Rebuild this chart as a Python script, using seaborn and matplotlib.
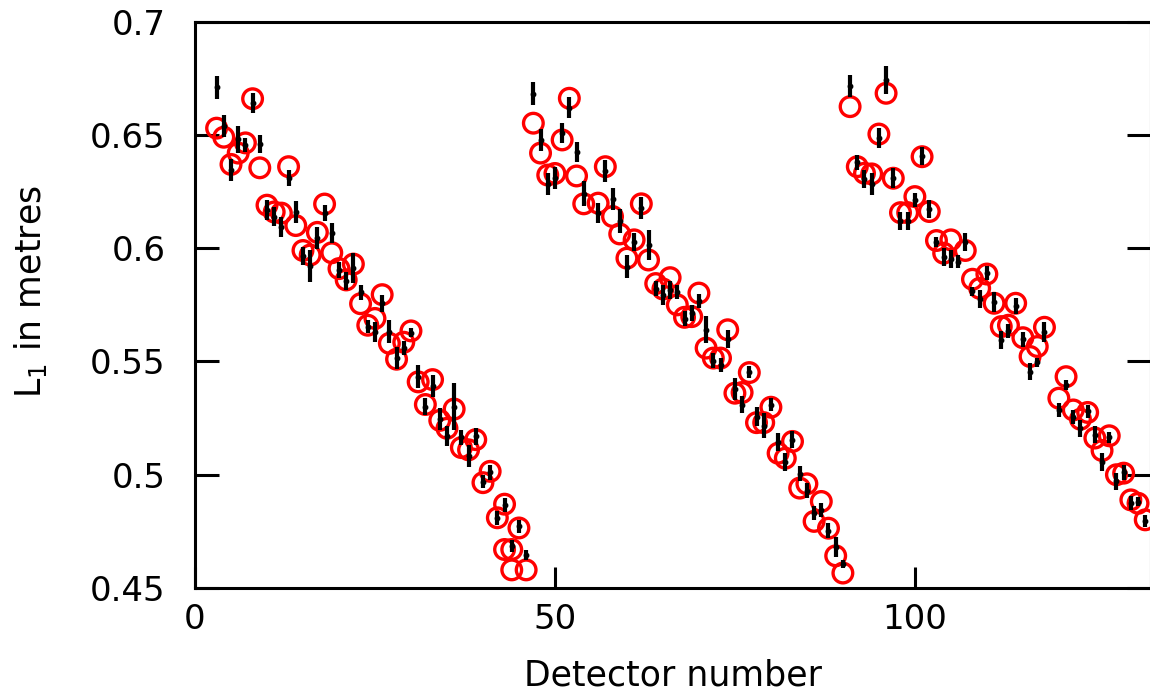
import numpy as np
import pandas as pd
import matplotlib
matplotlib.use("Agg")
import matplotlib.pyplot as plt
import seaborn as sns

# ---- data: calculated L1 (red circles) ----
circle_det = [3, 4, 5, 6, 7, 8, 9, 10, 11, 12, 13, 14, 15, 16, 17, 18, 19, 20, 21, 22,
              23, 24, 25, 26, 27, 28, 29, 30, 31, 32, 33, 34, 35, 36, 37, 38, 39, 40, 41, 42,
              43, 43, 44, 44, 45, 46,
              47, 48, 49, 50, 51, 52, 53, 54, 56, 57, 58, 59, 60, 61, 62, 63, 64, 65, 66, 67,
              68, 69, 70, 71, 72, 73, 74, 75, 76, 77, 78, 79, 80, 81, 82, 83, 84, 85, 86, 87,
              88, 89, 90,
              91, 92, 93, 94, 95, 96, 97, 98, 99, 100, 101, 102, 103, 104, 105, 107, 108, 109,
              110, 111, 112, 113, 114, 115, 116, 117, 118, 120, 121, 122, 123, 124, 125, 126,
              127, 128, 129, 130, 131, 132]
circle_L1 = [0.653, 0.649, 0.637, 0.642, 0.6465, 0.666, 0.6355, 0.619, 0.616, 0.6155,
             0.636, 0.610, 0.599, 0.597, 0.607, 0.6195, 0.598, 0.591, 0.586, 0.593,
             0.5755, 0.566, 0.569, 0.5795, 0.558, 0.551, 0.5585, 0.5635, 0.541, 0.531,
             0.542, 0.524, 0.5205, 0.529, 0.512, 0.511, 0.5155, 0.4965, 0.5015, 0.481,
             0.487, 0.467, 0.467, 0.458, 0.4765, 0.458,
             0.6552, 0.642, 0.6323, 0.633, 0.6478, 0.6662, 0.6319, 0.6196, 0.6199, 0.636,
             0.614, 0.6063, 0.5956, 0.6037, 0.6196, 0.5948, 0.5844, 0.582, 0.587, 0.575,
             0.5695, 0.5698, 0.5802, 0.5559, 0.5515, 0.5515, 0.564, 0.536, 0.5363, 0.5451,
             0.523, 0.523, 0.5298, 0.5095, 0.5073, 0.5147, 0.4941, 0.496, 0.4794, 0.4882,
             0.4764, 0.4642, 0.4566,
             0.6625, 0.636, 0.6331, 0.6328, 0.6504, 0.6684, 0.6309, 0.6157, 0.6157, 0.6228,
             0.6404, 0.6162, 0.6034, 0.5978, 0.6037, 0.599, 0.5863, 0.5823, 0.5886, 0.5757,
             0.5654, 0.566, 0.5757, 0.5605, 0.5522, 0.5566, 0.5651, 0.5338, 0.5433, 0.5286,
             0.5245, 0.5275, 0.5162, 0.5107, 0.5172, 0.500, 0.5007, 0.4889, 0.4874, 0.4801]

# ---- data: measured L1 with uncertainties (black bars) ----
bar_det = [3, 4, 5, 6, 7, 8, 9, 10, 11, 12, 13, 14, 15, 16, 17, 18, 19, 20, 21, 22,
           23, 24, 25, 26, 27, 28, 29, 30, 31, 32, 33, 34, 35, 36, 37, 38, 39, 40, 41, 42,
           43, 44, 45, 46,
           47, 48, 49, 50, 51, 52, 53, 54, 56, 57, 58, 59, 60, 61, 62, 63, 64, 65, 66, 67,
           68, 69, 70, 71, 72, 73, 74, 75, 76, 77, 78, 79, 80, 81, 82, 83, 84, 85, 86, 87,
           88, 89, 90,
           91, 92, 93, 94, 95, 96, 97, 98, 99, 100, 101, 102, 103, 104, 105, 106, 107, 108,
           109, 110, 111, 112, 113, 114, 115, 116, 117, 118, 120, 121, 122, 123, 124, 125,
           126, 127, 128, 129, 130, 131, 132]
bar_L1 = [0.671, 0.654, 0.6346, 0.648, 0.6455, 0.664, 0.646, 0.617, 0.614, 0.6095,
          0.631, 0.616, 0.5966, 0.592, 0.6045, 0.6156, 0.6067, 0.5904, 0.5856, 0.5913,
          0.5805, 0.5654, 0.5632, 0.5757, 0.5632, 0.5516, 0.556, 0.5627, 0.5433, 0.530,
          0.5392, 0.5247, 0.5169, 0.530, 0.5165, 0.5083, 0.5169, 0.497, 0.501, 0.481,
          0.4867, 0.4686, 0.4772, 0.4647,
          0.6682, 0.6478, 0.6284, 0.631, 0.6509, 0.6621, 0.6426, 0.624, 0.6156, 0.6341,
          0.6217, 0.612, 0.5919, 0.6026, 0.6178, 0.6015, 0.5822, 0.5794, 0.5816, 0.5808,
          0.5688, 0.5714, 0.5766, 0.564, 0.5504, 0.5485, 0.560, 0.5379, 0.5309, 0.5452,
          0.5257, 0.5216, 0.531, 0.5143, 0.5055, 0.5155, 0.5004, 0.4929, 0.4832, 0.4845,
          0.4753, 0.4683, 0.4607,
          0.6716, 0.6379, 0.6306, 0.6284, 0.6487, 0.6743, 0.631, 0.612, 0.612, 0.6214,
          0.6408, 0.6173, 0.6029, 0.596, 0.5953, 0.5941, 0.6026, 0.5809, 0.5776, 0.589,
          0.5764, 0.5595, 0.5635, 0.5745, 0.5598, 0.5455, 0.5497, 0.5632, 0.5287, 0.5397,
          0.5256, 0.5205, 0.528, 0.5176, 0.5055, 0.5165, 0.4971, 0.501, 0.4875, 0.488,
          0.4797]
bar_err = [0.005, 0.0048, 0.005, 0.006, 0.003, 0.0044, 0.004, 0.0044, 0.0044, 0.0044,
           0.0037, 0.005, 0.004, 0.007, 0.005, 0.0037, 0.0044, 0.0037, 0.004, 0.0066,
           0.0033, 0.003, 0.0044, 0.0037, 0.005, 0.005, 0.003, 0.002, 0.005, 0.0037,
           0.0048, 0.0048, 0.0044, 0.0103, 0.0033, 0.0048, 0.0037, 0.003, 0.0033, 0.003,
           0.003, 0.0026, 0.003, 0.0022,
           0.005, 0.005, 0.0048, 0.005, 0.0044, 0.0048, 0.0044, 0.0055, 0.0044, 0.0048,
           0.0048, 0.0055, 0.005, 0.004, 0.005, 0.0066, 0.0035, 0.0044, 0.004, 0.003,
           0.0033, 0.0037, 0.003, 0.006, 0.0033, 0.003, 0.004, 0.0048, 0.0037, 0.0026,
           0.0044, 0.0055, 0.003, 0.004, 0.004, 0.0037, 0.0033, 0.0033, 0.003, 0.003,
           0.0033, 0.0044, 0.0018,
           0.0048, 0.0033, 0.004, 0.0048, 0.0044, 0.006, 0.0044, 0.004, 0.004, 0.003,
           0.004, 0.004, 0.0022, 0.004, 0.004, 0.003, 0.004, 0.0022, 0.004, 0.003,
           0.0044, 0.004, 0.003, 0.0035, 0.0033, 0.0037, 0.002, 0.0044, 0.003, 0.0022,
           0.003, 0.0037, 0.003, 0.0037, 0.004, 0.0024, 0.0037, 0.0033, 0.003, 0.002,
           0.0026]

x_ticks = [0, 50, 100]
y_ticks = [0.45, 0.50, 0.55, 0.60, 0.65, 0.70]
y_tick_labels = ["0.45", "0.5", "0.55", "0.6", "0.65", "0.7"]
x_label = "Detector number"
y_label = "L$_1$ in metres"

calc_df = pd.DataFrame({"det": circle_det, "L1": circle_L1})

sns.set_theme(style="ticks")
plt.rcParams["font.family"] = ["DejaVu Sans"]
plt.rcParams["mathtext.fontset"] = "dejavusans"

W, H = 1150, 695
fig = plt.figure(figsize=(W / 100, H / 100), dpi=100)
ax = fig.add_axes([195 / W, (H - 588) / H, 956 / W, (588 - 21.7) / H])

sns.scatterplot(data=calc_df, x="det", y="L1", ax=ax, marker="o", s=200,
                facecolor="none", edgecolor="#ff0000", linewidth=2.4,
                legend=False, zorder=2)
ax.errorbar(bar_det, bar_L1, yerr=bar_err, fmt="o", color="black", ms=3.2,
            elinewidth=3.0, capsize=0, zorder=3)

ax.set_xlim(0, 132.8)
ax.set_ylim(0.45, 0.70)
ax.set_xticks(x_ticks)
ax.set_yticks(y_ticks)
ax.set_yticklabels(y_tick_labels)
ax.tick_params(axis="both", direction="in", width=2.2, color="black",
               labelsize=24.5, labelcolor="black")
ax.tick_params(axis="y", length=17, pad=21, right=True)
ax.tick_params(axis="x", length=15, pad=11)
for s in ax.spines.values():
    s.set_linewidth(2.2)
    s.set_color("black")

ax.set_xlabel(x_label, fontsize=25, labelpad=16, color="black")
ax.set_ylabel(y_label, fontsize=25, color="black", va="center")
ax.yaxis.set_label_coords((31 - 195) / 956, (588 - 292) / (588 - 21.7))
ax.grid(False)

fig.savefig("out.png", dpi=100)
